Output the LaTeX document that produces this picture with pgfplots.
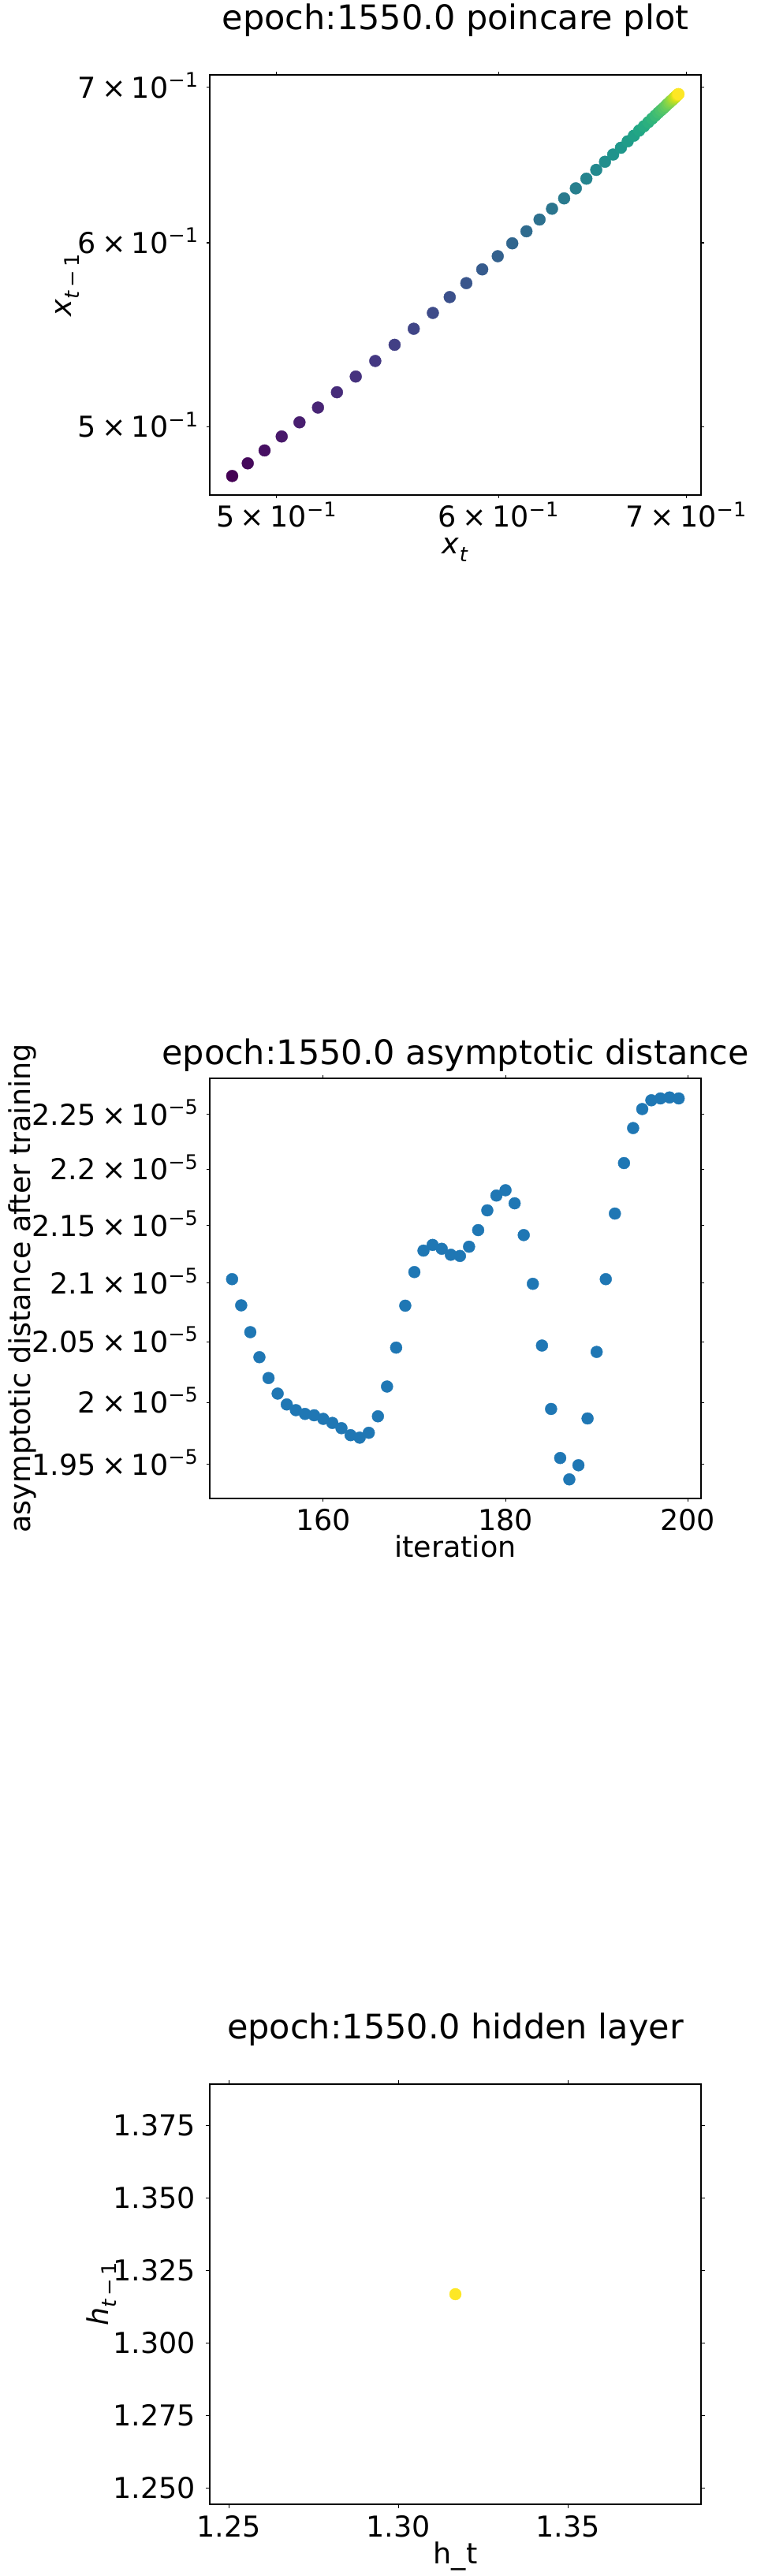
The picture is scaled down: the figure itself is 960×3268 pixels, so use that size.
\documentclass[border=0pt]{standalone}
\usepackage{pgfplots}
\pgfplotsset{compat=1.18}
\usepackage{pgfplotstable}
\usepackage{fontspec}
\setmainfont{DejaVu Sans}
\newcommand\tk{\fontsize{36.5}{44}\selectfont}
\newcommand\ttl{\fontsize{43}{50}\selectfont}
\newcommand\sci[2]{#1\hspace{0.2em}×\hspace{0.2em}10\raisebox{0.38em}{\fontsize{25.5}{28}\selectfont −#2}}

% poincare: x = x_t, y = x_{t-1}, c = index
\pgfplotstableread{
x y c
0.4822 0.4762 0
0.4884 0.4822 1
0.4952 0.4884 2
0.5022 0.4952 3
0.5096 0.5022 4
0.5174 0.5096 5
0.5255 0.5174 6
0.5337 0.5255 7
0.5423 0.5337 8
0.5510 0.5423 9
0.5597 0.5510 10
0.5686 0.5597 11
0.5765 0.5686 12
0.5844 0.5765 13
0.5921 0.5844 14
0.5997 0.5921 15
0.6069 0.5997 16
0.6140 0.6069 17
0.6206 0.6140 18
0.6270 0.6206 19
0.6333 0.6270 20
0.6394 0.6333 21
0.6450 0.6394 22
0.6502 0.6450 23
0.6549 0.6502 24
0.6593 0.6549 25
0.6635 0.6593 26
0.6672 0.6635 27
0.6706 0.6672 28
0.6735 0.6706 29
0.6762 0.6735 30
0.6786 0.6762 31
0.6807 0.6786 32
0.6826 0.6807 33
0.6842 0.6826 34
0.6857 0.6842 35
0.6871 0.6857 36
0.6883 0.6871 37
0.6893 0.6883 38
0.6903 0.6893 39
0.6911 0.6903 40
0.6919 0.6911 41
0.6926 0.6919 42
0.6931 0.6926 43
0.6937 0.6931 44
0.6942 0.6937 45
0.6946 0.6942 46
0.6950 0.6946 47
0.6953 0.6950 48
0.6956 0.6953 49
}\poincare

% asymptotic distance, in units of 1e-5
\pgfplotstableread{
it d
150 2.1033
151 2.0809
152 2.0582
153 2.0372
154 2.0199
155 2.0071
156 1.9984
157 1.9938
158 1.9907
159 1.9895
160 1.9866
161 1.9835
162 1.9792
163 1.9735
164 1.9715
165 1.9755
166 1.9890
167 2.0129
168 2.0452
169 2.0806
170 2.1094
171 2.1280
172 2.1330
173 2.1296
174 2.1244
175 2.1234
176 2.1314
177 2.1459
178 2.1633
179 2.1765
180 2.1812
181 2.1696
182 2.1416
183 2.0993
184 2.0469
185 1.9947
186 1.9551
187 1.9382
188 1.9494
189 1.9869
190 2.0416
191 2.1033
192 2.1605
193 2.2056
194 2.2374
195 2.2549
196 2.2630
197 2.2647
198 2.2656
199 2.2647
}\asym

\pgfplotstableread{
x y
1.3168 1.3168
}\hidden

\pgfplotsset{
  mpl/.style={
    scale only axis, width=623pt, height=533pt, anchor=south west,
    axis line style={line width=1.1pt, black},
    tick align=outside,
    tick style={black, line width=1.1pt},
    major tick length=4pt,
    xminorticks=false, yminorticks=false,
    xticklabel style={font=\tk, anchor=base, yshift=-37pt},
    yticklabel style={font=\tk, anchor=base east, xshift=-7.5pt, yshift=-13.5pt},
    label style={font=\tk},
    title style={font=\ttl, at={(axis description cs:0.5,1)}, anchor=base},
    xlabel style={at={(axis description cs:0.5,0)}, anchor=base, yshift=-75pt},
  }
}

\begin{document}
\begin{tikzpicture}
\path[use as bounding box] (0,0) rectangle (960pt,3268pt);

% ---------- plot 1 ----------
\begin{axis}[mpl, at={(266pt,2640pt)},
  xmode=log, ymode=log,
  xmin=0.4734, xmax=0.7086, ymin=0.4673, ymax=0.7087,
  xtick={0.5,0.6,0.7}, xticklabels={\sci{5}{1},\sci{6}{1},\sci{7}{1}},
  ytick={0.5,0.6,0.7}, yticklabels={\sci{5}{1},\sci{6}{1},\sci{7}{1}},
  title={epoch:1550.0 poincare plot},
  title style={yshift=51pt},
  xlabel={\textit{x}\textsubscript{\textit{t}}},
  ylabel={\textit{x}\textsubscript{\textit{t}\,−\,1}},
  ylabel style={at={(axis description cs:-0.289,0.5)}, anchor=center},
  colormap/viridis, point meta min=0, point meta max=49,
]
\addplot[scatter, only marks, mark=*, mark size=7.5pt,
  scatter src=explicit,
  scatter/use mapped color={draw=mapped color, fill=mapped color}]
  table[x=x, y=y, meta=c] {\poincare};
\end{axis}

% ---------- plot 2 ----------
\begin{axis}[mpl, at={(266pt,1367pt)},
  ymode=log,
  xmin=147.55, xmax=201.45, ymin=1.9231, ymax=2.2834,
  xtick={160,180,200}, xticklabels={160,180,200},
  ytick={1.95,2,2.05,2.1,2.15,2.2,2.25},
  yticklabels={\sci{1.95}{5},\sci{2}{5},\sci{2.05}{5},\sci{2.1}{5},\sci{2.15}{5},\sci{2.2}{5},\sci{2.25}{5}},
  title={epoch:1550.0 asymptotic distance},
  title style={yshift=11pt},
  xlabel={iteration},
  ylabel={asymptotic distance after training},
  ylabel style={at={(axis description cs:-0.382,0.5)}, anchor=center},
]
\addplot[only marks, mark=*, mark size=7.5pt, color={rgb,255:red,31;green,119;blue,180}]
  table[x=it, y=d] {\asym};
\end{axis}

% ---------- plot 3 ----------
\begin{axis}[mpl, at={(266pt,91pt)},
  xmin=1.24438, xmax=1.38922, ymin=1.24438, ymax=1.38922,
  xtick={1.25,1.30,1.35}, xticklabels={1.25,1.30,1.35},
  ytick={1.250,1.275,1.300,1.325,1.350,1.375},
  yticklabels={1.250,1.275,1.300,1.325,1.350,1.375},
  yticklabel style={xshift=-2pt},
  major tick length=5pt,
  title={epoch:1550.0 hidden layer},
  title style={yshift=51pt},
  xlabel={h\_t},
  ylabel={\textit{h}\textsubscript{\textit{t}\,−\,1}},
  ylabel style={at={(axis description cs:-0.22,0.5)}, anchor=center},
]
\addplot[only marks, mark=*, mark size=7.5pt, color={rgb,255:red,253;green,231;blue,37}]
  table[x=x, y=y] {\hidden};
\end{axis}
\end{tikzpicture}
\end{document}
